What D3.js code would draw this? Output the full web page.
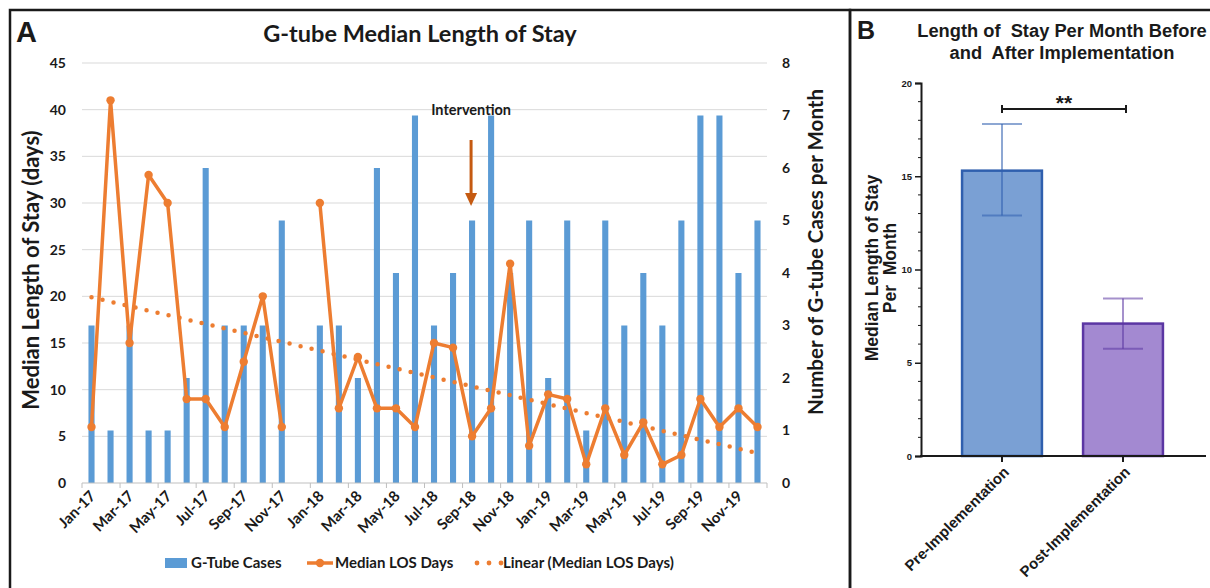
<!DOCTYPE html>
<html>
<head>
<meta charset="utf-8">
<script src="https://cdn.jsdelivr.net/npm/d3@7"></script>
<style>
  body { margin: 0; background: #fff; }
  svg { display: block; }
  text { white-space: pre; }
</style>
</head>
<body>
<div id="chart"></div>
<script>
// ---- data ----
const months = ["Jan-17","Feb-17","Mar-17","Apr-17","May-17","Jun-17","Jul-17","Aug-17","Sep-17","Oct-17","Nov-17","Dec-17",
  "Jan-18","Feb-18","Mar-18","Apr-18","May-18","Jun-18","Jul-18","Aug-18","Sep-18","Oct-18","Nov-18","Dec-18",
  "Jan-19","Feb-19","Mar-19","Apr-19","May-19","Jun-19","Jul-19","Aug-19","Sep-19","Oct-19","Nov-19","Dec-19"];
const gtubeCases = [3,1,3,1,1,2,6,3,3,3,5,0, 3,3,2,6,4,7,3,4,5,7,4,5, 2,5,1,5,3,4,3,5,7,7,4,5];
const medianLOS = [6,41,15,33,30,9,9,6,13,20,6,null, 30,8,13.5,8,8,6,15,14.5,5,8,23.5,4, 9.5,9,2,8,3,6.5,2,3,9,6,8,6];
const trendLOS = [19.9, 3.2];          // linear trend at first and last month
const losTicks = [0,5,10,15,20,25,30,35,40,45];
const caseTicks = [0,1,2,3,4,5,6,7,8];
const interventionMonth = "Sep-18";

const phases = ["Pre-Implementation","Post-Implementation"];
const phaseMedian = [15.3, 7.1];
const phaseLow = [12.9, 5.75];
const phaseHigh = [17.8, 8.45];
const phaseTicks = [0,5,10,15,20];

const blue = "#5b9bd5", orange = "#ed7d31";
const fontA = "Lato, 'Open Sans', sans-serif";
const fontB = "'Liberation Sans', Arial, sans-serif";

const svg = d3.select("#chart").append("svg").attr("width", 1210).attr("height", 588);

// panel frames
svg.append("rect").attr("x", 10).attr("y", 10).attr("width", 840).attr("height", 590)
  .attr("fill", "none").attr("stroke", "#1a1a1a").attr("stroke-width", 2.5);
svg.append("rect").attr("x", 850).attr("y", 10).attr("width", 370).attr("height", 590)
  .attr("fill", "none").attr("stroke", "#1a1a1a").attr("stroke-width", 2.5);

// ================= Panel A =================
const A = svg.append("g").attr("font-family", fontA).attr("font-weight", 700).attr("fill", "#1a1a1a");

const x = d3.scaleBand().domain(months).range([82, 767]).paddingInner(0.68).paddingOuter(0.34);
const xc = d => x(d) + x.bandwidth() / 2;
const yL = d3.scaleLinear().domain([0, 45]).range([483, 63]);
const yR = d3.scaleLinear().domain([0, 8]).range([483, 63]);

// gridlines
A.append("g").selectAll("line").data(losTicks.slice(1)).join("line")
  .attr("x1", 82).attr("x2", 767)
  .attr("y1", d => yL(d)).attr("y2", d => yL(d))
  .attr("stroke", "#d9d9d9").attr("stroke-width", 1);

// left axis
const axL = A.append("g").attr("transform", "translate(82,0)")
  .call(d3.axisLeft(yL).tickValues(losTicks).tickSize(0).tickPadding(16));
axL.select(".domain").remove();
axL.selectAll("text").attr("font-family", fontA).attr("font-weight", 700).attr("font-size", 14).attr("fill", "#1a1a1a");

// right axis
const axR = A.append("g").attr("transform", "translate(767,0)")
  .call(d3.axisRight(yR).tickValues(caseTicks).tickSize(0).tickPadding(15));
axR.select(".domain").remove();
axR.selectAll("text").attr("font-family", fontA).attr("font-weight", 700).attr("font-size", 14).attr("fill", "#1a1a1a");

// bars
A.append("g").selectAll("rect").data(months).join("rect")
  .attr("x", d => x(d))
  .attr("width", x.bandwidth())
  .attr("y", (d, i) => yR(gtubeCases[i]))
  .attr("height", (d, i) => yR(0) - yR(gtubeCases[i]))
  .attr("fill", blue);

// x axis line + tick marks every 2 months
A.append("line").attr("x1", 82).attr("x2", 767).attr("y1", yL(0)).attr("y2", yL(0))
  .attr("stroke", "#bfbfbf").attr("stroke-width", 1);
const edge = d => x(d) - x.step() * x.paddingOuter();
const tickEdges = months.filter((d, i) => i % 2 === 0).map(edge).concat([x.range()[1]]);
A.append("g").selectAll("line").data(tickEdges).join("line")
  .attr("x1", d => d).attr("x2", d => d).attr("y1", yL(0)).attr("y2", yL(0) + 5)
  .attr("stroke", "#bfbfbf");

// x labels
const axX = A.append("g").attr("transform", `translate(0,${yL(0)})`)
  .call(d3.axisBottom(x).tickValues(months.filter((d, i) => i % 2 === 0)).tickSize(0).tickPadding(0));
axX.select(".domain").remove();
axX.selectAll("text")
  .attr("font-family", fontA).attr("font-weight", 700).attr("font-size", 15).attr("fill", "#1a1a1a")
  .attr("y", 0).attr("dy", 0)
  .attr("text-anchor", "end")
  .attr("transform", "translate(5,14) rotate(-45)");

// trend line (dotted)
A.append("path")
  .datum([months[0], months[months.length - 1]])
  .attr("d", d3.line().x(d => xc(d)).y((d, i) => yL(trendLOS[i])))
  .attr("fill", "none").attr("stroke", orange).attr("stroke-width", 4.5)
  .attr("stroke-linecap", "round").attr("stroke-dasharray", "0 11.3");

// median LOS line
const losPts = months.map((m, i) => ({ m, v: medianLOS[i] }));
A.append("path").datum(losPts)
  .attr("d", d3.line().defined(d => d.v != null).x(d => xc(d.m)).y(d => yL(d.v)))
  .attr("fill", "none").attr("stroke", orange).attr("stroke-width", 3.5).attr("stroke-linejoin", "round");
A.append("g").selectAll("circle").data(losPts.filter(d => d.v != null)).join("circle")
  .attr("cx", d => xc(d.m)).attr("cy", d => yL(d.v)).attr("r", 4.2).attr("fill", orange);

// intervention
const ix = xc(interventionMonth) - 1;
A.append("text").attr("x", ix).attr("y", 115).attr("text-anchor", "middle").attr("font-size", 14.5).text("Intervention");
A.append("line").attr("x1", ix).attr("x2", ix).attr("y1", 140).attr("y2", 195)
  .attr("stroke", "#c55a11").attr("stroke-width", 3);
A.append("path").attr("d", `M${ix - 6},193 L${ix + 6},193 L${ix},206 Z`).attr("fill", "#c55a11");

// titles
A.append("text").attr("x", 420).attr("y", 42).attr("text-anchor", "middle").attr("font-size", 23.5)
  .text("G-tube Median Length of Stay");
A.append("text").attr("x", 16).attr("y", 42).attr("font-family", fontB).attr("font-size", 29).text("A");
A.append("text").attr("transform", "translate(39,270) rotate(-90)").attr("text-anchor", "middle")
  .attr("font-size", 22).text("Median Length of Stay (days)");
A.append("text").attr("transform", "translate(823,252) rotate(-90)").attr("text-anchor", "middle")
  .attr("font-size", 20.5).text("Number of G-tube Cases per Month");

// legend
const lg = A.append("g").attr("font-size", 15);
lg.append("rect").attr("x", 165).attr("y", 558).attr("width", 22).attr("height", 10).attr("fill", blue);
lg.append("text").attr("x", 191).attr("y", 568).text("G-Tube Cases");
lg.append("line").attr("x1", 307).attr("x2", 333).attr("y1", 563).attr("y2", 563).attr("stroke", orange).attr("stroke-width", 3.5);
lg.append("circle").attr("cx", 320).attr("cy", 563).attr("r", 4.2).attr("fill", orange);
lg.append("text").attr("x", 335).attr("y", 568).text("Median LOS Days");
lg.selectAll(".dot").data([477, 489, 501]).join("circle").attr("class", "dot")
  .attr("cx", d => d).attr("cy", 563).attr("r", 2.4).attr("fill", orange);
lg.append("text").attr("x", 503).attr("y", 568).text("Linear (Median LOS Days)");

// ================= Panel B =================
const B = svg.append("g").attr("font-family", fontB).attr("font-weight", 700).attr("fill", "#1a1a1a");
const xb = d3.scaleBand().domain(phases).range([941.5, 1183.5]).paddingInner(0.34).paddingOuter(0.17);
const yb = d3.scaleLinear().domain([0, 20]).range([456, 83]);
const barFill = ["#7aa0d4", "#a389d1"];
const barStroke = ["#2f5fae", "#5b36a3"];

B.append("text").attr("x", 857).attr("y", 39).attr("font-size", 25).text("B");
B.append("text").attr("x", 1062).attr("y", 37).attr("text-anchor", "middle").attr("font-size", 18.3)
  .text("Length of  Stay Per Month Before");
B.append("text").attr("x", 1062).attr("y", 59).attr("text-anchor", "middle").attr("font-size", 18.3)
  .text("and  After Implementation");
B.append("text").attr("transform", "translate(878,268) rotate(-90)").attr("text-anchor", "middle")
  .attr("font-size", 17.5).text("Median Length of Stay");
B.append("text").attr("transform", "translate(896,268) rotate(-90)").attr("text-anchor", "middle")
  .attr("font-size", 17.5).text("Per  Month");

// bars
B.append("g").selectAll("rect").data(phases).join("rect")
  .attr("x", d => xb(d)).attr("width", xb.bandwidth())
  .attr("y", (d, i) => yb(phaseMedian[i])).attr("height", (d, i) => yb(0) - yb(phaseMedian[i]))
  .attr("fill", (d, i) => barFill[i]).attr("stroke", (d, i) => barStroke[i]).attr("stroke-width", 2.5);

// error bars
const eb = B.append("g").selectAll("g").data(phases).join("g")
  .attr("stroke", (d, i) => barStroke[i]).attr("stroke-opacity", 0.55).attr("stroke-width", 2);
eb.append("line").attr("x1", d => xb(d) + xb.bandwidth() / 2).attr("x2", d => xb(d) + xb.bandwidth() / 2)
  .attr("y1", (d, i) => yb(phaseLow[i])).attr("y2", (d, i) => yb(phaseHigh[i]));
eb.append("line").attr("x1", d => xb(d) + xb.bandwidth() / 2 - 20).attr("x2", d => xb(d) + xb.bandwidth() / 2 + 20)
  .attr("y1", (d, i) => yb(phaseHigh[i])).attr("y2", (d, i) => yb(phaseHigh[i]));
eb.append("line").attr("x1", d => xb(d) + xb.bandwidth() / 2 - 20).attr("x2", d => xb(d) + xb.bandwidth() / 2 + 20)
  .attr("y1", (d, i) => yb(phaseLow[i])).attr("y2", (d, i) => yb(phaseLow[i]));

// y axis with minor ticks
const axB = B.append("g").attr("transform", "translate(921,0)")
  .call(d3.axisLeft(yb).tickValues(phaseTicks).tickSize(6).tickPadding(3));
axB.select(".domain").attr("stroke", "#1a1a1a").attr("stroke-width", 2);
axB.selectAll(".tick line").attr("stroke", "#1a1a1a").attr("stroke-width", 1.5);
axB.selectAll("text").attr("font-family", fontB).attr("font-weight", 700).attr("font-size", 9.5).attr("fill", "#1a1a1a");
B.append("g").selectAll("line").data(d3.range(0, 21).filter(v => v % 5 !== 0)).join("line")
  .attr("x1", 918).attr("x2", 921).attr("y1", d => yb(d)).attr("y2", d => yb(d))
  .attr("stroke", "#1a1a1a").attr("stroke-width", 1);

// x axis
B.append("line").attr("x1", 920).attr("x2", 1206).attr("y1", yb(0)).attr("y2", yb(0))
  .attr("stroke", "#1a1a1a").attr("stroke-width", 2);
const axBx = B.append("g").attr("transform", `translate(0,${yb(0)})`)
  .call(d3.axisBottom(xb).tickSize(6).tickPadding(0));
axBx.select(".domain").remove();
axBx.selectAll(".tick line").attr("stroke", "#1a1a1a").attr("stroke-width", 2);
axBx.selectAll("text")
  .attr("font-family", fontB).attr("font-weight", 700).attr("font-size", 15).attr("fill", "#1a1a1a")
  .attr("y", 0).attr("dy", 0).attr("text-anchor", "end")
  .attr("transform", "translate(8,17) rotate(-45)");

// significance bracket
const sx1 = xb(phases[0]) + xb.bandwidth() / 2, sx2 = xb(phases[1]) + xb.bandwidth() / 2 + 3;
const sy = yb(18.6);
B.append("path").attr("d", `M${sx1},${sy - 4}V${sy + 4}M${sx1},${sy}H${sx2}M${sx2},${sy - 4}V${sy + 4}`)
  .attr("stroke", "#1a1a1a").attr("stroke-width", 2).attr("fill", "none");
B.append("text").attr("x", (sx1 + sx2) / 2).attr("y", sy + 1).attr("text-anchor", "middle").attr("font-size", 21).text("**");
</script>
</body>
</html>
